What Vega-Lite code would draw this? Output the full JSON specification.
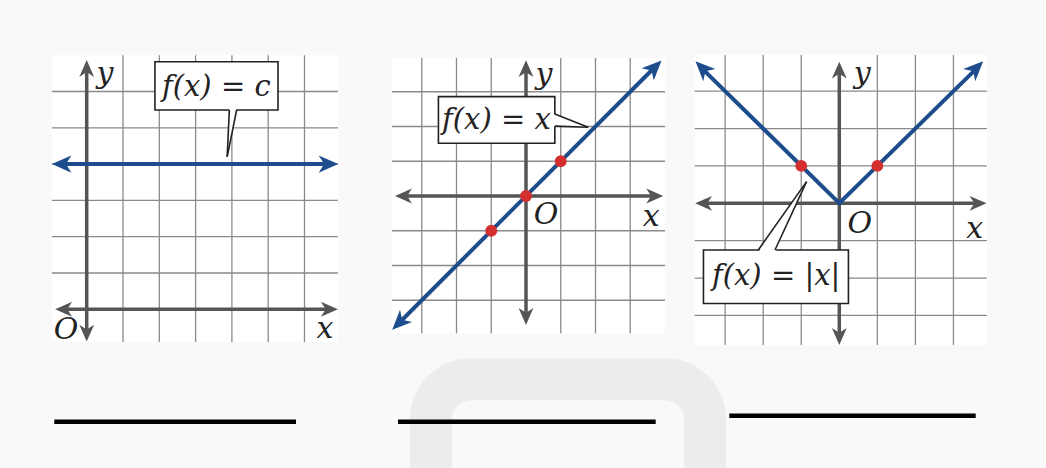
{
  "$schema": "https://vega.github.io/schema/vega-lite/v6.json",
  "background": "#f9f9f9",
  "padding": {"left": 40, "top": 40, "right": 36, "bottom": 0},
  "bounds": "flush",
  "spacing": 10,
  "config": {"view": {"stroke": null}, "text": {"font": "DejaVu Serif"}},
  "hconcat": [
    {
      "width": 320,
      "height": 400,
      "data": {"values": [
        {"part": "bg", "x": -0.96, "x2": 6.92, "y": -0.9, "y2": 7.0},
        {"part": "vgrid", "x": 1, "y": -0.9, "y2": 7.0},
        {"part": "vgrid", "x": 2, "y": -0.9, "y2": 7.0},
        {"part": "vgrid", "x": 3, "y": -0.9, "y2": 7.0},
        {"part": "vgrid", "x": 4, "y": -0.9, "y2": 7.0},
        {"part": "vgrid", "x": 5, "y": -0.9, "y2": 7.0},
        {"part": "vgrid", "x": 6, "y": -0.9, "y2": 7.0},
        {"part": "hgrid", "y": 1, "x": -0.96, "x2": 6.92},
        {"part": "hgrid", "y": 2, "x": -0.96, "x2": 6.92},
        {"part": "hgrid", "y": 3, "x": -0.96, "x2": 6.92},
        {"part": "hgrid", "y": 4, "x": -0.96, "x2": 6.92},
        {"part": "hgrid", "y": 5, "x": -0.96, "x2": 6.92},
        {"part": "hgrid", "y": 6, "x": -0.96, "x2": 6.92},
        {"part": "axis", "x": -0.57, "y": 0, "x2": 6.62, "y2": 0},
        {"part": "axis", "x": 0, "y": -0.59, "x2": 0, "y2": 6.57},
        {"part": "axarrow", "dir": "left", "x": -0.87, "y": 0},
        {"part": "axarrow", "dir": "right", "x": 6.92, "y": 0},
        {"part": "axarrow", "dir": "up", "x": 0, "y": 6.87},
        {"part": "axarrow", "dir": "down", "x": 0, "y": -0.89},
        {"part": "curve", "x": -0.66, "y": 4},
        {"part": "curve", "x": 6.63, "y": 4},
        {"part": "carrow", "dir": "left", "x": -0.96, "y": 4},
        {"part": "carrow", "dir": "right", "x": 6.93, "y": 4},
        {"part": "box", "x": 1.88, "x2": 5.27, "y": 5.49, "y2": 6.82},
        {"part": "ptr", "y": 5.56, "x": 3.93, "x2": 4.13},
        {"part": "ptr", "y": 4.2, "x": 3.87, "x2": 3.87},
        {"part": "side", "x": 3.93, "y": 5.49, "x2": 3.87, "y2": 4.2},
        {"part": "side", "x": 4.13, "y": 5.49, "x2": 3.87, "y2": 4.2},
        {"part": "btext", "x": 3.57, "y": 6.13, "t": "f(x) = c"},
        {"part": "label", "x": 0.5, "y": 6.48, "t": "y"},
        {"part": "label", "x": 6.56, "y": -0.54, "t": "x"},
        {"part": "label", "x": -0.57, "y": -0.57, "t": "O"},
        {"part": "uline", "x": -0.893, "x2": 5.766, "y": -3.096}
      ]},
      "encoding": {
        "x": {"field": "x", "type": "quantitative", "scale": {"domain": [-1.2865, 7.5289], "nice": false, "zero": false}, "axis": null},
        "y": {"field": "y", "type": "quantitative", "scale": {"domain": [-3.6006, 7.4187], "nice": false, "zero": false}, "axis": null}
      },
      "layer": [
        {"transform": [{"filter": "datum.part === 'bg'"}], "mark": {"type": "rect", "color": "#ffffff"}, "encoding": {"x2": {"field": "x2"}, "y2": {"field": "y2"}}},
        {"transform": [{"filter": "datum.part === 'vgrid'"}], "mark": {"type": "rule", "color": "#8a8a8a", "strokeWidth": 1.3}, "encoding": {"y2": {"field": "y2"}}},
        {"transform": [{"filter": "datum.part === 'hgrid'"}], "mark": {"type": "rule", "color": "#8a8a8a", "strokeWidth": 1.3}, "encoding": {"x2": {"field": "x2"}}},
        {"transform": [{"filter": "datum.part === 'axis'"}], "mark": {"type": "rule", "color": "#555555", "strokeWidth": 3.5}, "encoding": {"x2": {"field": "x2"}, "y2": {"field": "y2"}}},
        {"transform": [{"filter": "datum.part === 'curve'"}], "mark": {"type": "line", "color": "#1d4d8c", "strokeWidth": 4}},
        {"transform": [{"filter": "datum.part === 'axarrow'"}], "mark": {"type": "point", "shape": "M0,0L0.7,1.6L0,1.15L-0.7,1.6Z", "filled": true, "size": 450, "color": "#555555", "opacity": 1},
         "encoding": {"angle": {"field": "dir", "type": "nominal", "scale": {"type": "ordinal", "domain": ["up", "right", "down", "left", "ne", "sw", "nw"], "range": [0, 90, 180, 270, 45, 225, 315]}, "legend": null}}},
        {"transform": [{"filter": "datum.part === 'carrow'"}], "mark": {"type": "point", "shape": "M0,0L0.7,1.6L0,1.15L-0.7,1.6Z", "filled": true, "size": 600, "color": "#1d4d8c", "opacity": 1},
         "encoding": {"angle": {"field": "dir", "type": "nominal", "scale": {"type": "ordinal", "domain": ["up", "right", "down", "left", "ne", "sw", "nw"], "range": [0, 90, 180, 270, 45, 225, 315]}, "legend": null}}},
        {"transform": [{"filter": "datum.part === 'box'"}], "mark": {"type": "rect", "fill": "#ffffff", "stroke": "#222222", "strokeWidth": 1.6}, "encoding": {"x2": {"field": "x2"}, "y2": {"field": "y2"}}},
        {"transform": [{"filter": "datum.part === 'ptr'"}], "mark": {"type": "area", "orient": "horizontal", "color": "#ffffff", "opacity": 1}, "encoding": {"x2": {"field": "x2"}}},
        {"transform": [{"filter": "datum.part === 'side'"}], "mark": {"type": "rule", "color": "#222222", "strokeWidth": 1.6}, "encoding": {"x2": {"field": "x2"}, "y2": {"field": "y2"}}},
        {"transform": [{"filter": "datum.part === 'btext'"}], "mark": {"type": "text", "font": "DejaVu Serif", "fontStyle": "italic", "fontSize": 29, "color": "#222222", "align": "center", "baseline": "middle"}, "encoding": {"text": {"field": "t"}}},
        {"transform": [{"filter": "datum.part === 'label'"}], "mark": {"type": "text", "font": "DejaVu Serif", "fontStyle": "italic", "fontSize": 30, "color": "#222222", "align": "center", "baseline": "middle"}, "encoding": {"text": {"field": "t"}}},
        {"transform": [{"filter": "datum.part === 'uline'"}], "mark": {"type": "rule", "color": "#000000", "strokeWidth": 4.5}, "encoding": {"x2": {"field": "x2"}}}
      ]
    },
    {
      "width": 310,
      "height": 400,
      "data": {"values": [
        {"part": "logo", "x": -2.73, "x2": 5.15, "y": -5.27, "y2": -9.3},
        {"part": "bg", "x": -3.86, "x2": 4.0, "y": -3.95, "y2": 3.97},
        {"part": "vgrid", "x": -3, "y": -3.95, "y2": 3.97},
        {"part": "vgrid", "x": -2, "y": -3.95, "y2": 3.97},
        {"part": "vgrid", "x": -1, "y": -3.95, "y2": 3.97},
        {"part": "vgrid", "x": 1, "y": -3.95, "y2": 3.97},
        {"part": "vgrid", "x": 2, "y": -3.95, "y2": 3.97},
        {"part": "vgrid", "x": 3, "y": -3.95, "y2": 3.97},
        {"part": "hgrid", "y": -3, "x": -3.86, "x2": 4.0},
        {"part": "hgrid", "y": -2, "x": -3.86, "x2": 4.0},
        {"part": "hgrid", "y": -1, "x": -3.86, "x2": 4.0},
        {"part": "hgrid", "y": 1, "x": -3.86, "x2": 4.0},
        {"part": "hgrid", "y": 2, "x": -3.86, "x2": 4.0},
        {"part": "hgrid", "y": 3, "x": -3.86, "x2": 4.0},
        {"part": "axis", "x": -3.47, "y": 0, "x2": 3.65, "y2": 0},
        {"part": "axis", "x": 0, "y": -3.41, "x2": 0, "y2": 3.61},
        {"part": "axarrow", "dir": "left", "x": -3.77, "y": 0},
        {"part": "axarrow", "dir": "right", "x": 3.95, "y": 0},
        {"part": "axarrow", "dir": "up", "x": 0, "y": 3.91},
        {"part": "axarrow", "dir": "down", "x": 0, "y": -3.71},
        {"part": "curve", "x": -3.64, "y": -3.64},
        {"part": "curve", "x": 3.69, "y": 3.69},
        {"part": "carrow", "dir": "sw", "x": -3.85, "y": -3.85},
        {"part": "carrow", "dir": "ne", "x": 3.9, "y": 3.9},
        {"part": "dot", "x": -1, "y": -1},
        {"part": "dot", "x": 0, "y": 0},
        {"part": "dot", "x": 1, "y": 1},
        {"part": "box", "x": -2.52, "x2": 0.83, "y": 1.52, "y2": 2.86},
        {"part": "ptr", "x": 0.78, "y": 2.01, "y2": 2.36},
        {"part": "ptr", "x": 1.79, "y": 1.98, "y2": 1.98},
        {"part": "side", "x": 0.83, "y": 2.36, "x2": 1.79, "y2": 1.98},
        {"part": "side", "x": 0.83, "y": 2.01, "x2": 1.79, "y2": 1.98},
        {"part": "btext", "x": -0.85, "y": 2.2, "t": "f(x) = x"},
        {"part": "label", "x": 0.52, "y": 3.48, "t": "y"},
        {"part": "label", "x": 0.58, "y": -0.55, "t": "O"},
        {"part": "label", "x": 3.6, "y": -0.6, "t": "x"},
        {"part": "uline", "x": -3.683, "x2": 3.732, "y": -6.495}
      ]},
      "encoding": {
        "x": {"field": "x", "type": "quantitative", "scale": {"domain": [-4.4892, 4.4317], "nice": false, "zero": false}, "axis": null},
        "y": {"field": "y", "type": "quantitative", "scale": {"domain": [-7.0216, 4.4892], "nice": false, "zero": false}, "axis": null}
      },
      "layer": [
        {"transform": [{"filter": "datum.part === 'logo'"}], "mark": {"type": "rect", "fill": null, "stroke": "#ececec", "strokeWidth": 42, "cornerRadius": 40}, "encoding": {"x2": {"field": "x2"}, "y2": {"field": "y2"}}},
        {"transform": [{"filter": "datum.part === 'bg'"}], "mark": {"type": "rect", "color": "#ffffff"}, "encoding": {"x2": {"field": "x2"}, "y2": {"field": "y2"}}},
        {"transform": [{"filter": "datum.part === 'vgrid'"}], "mark": {"type": "rule", "color": "#8a8a8a", "strokeWidth": 1.3}, "encoding": {"y2": {"field": "y2"}}},
        {"transform": [{"filter": "datum.part === 'hgrid'"}], "mark": {"type": "rule", "color": "#8a8a8a", "strokeWidth": 1.3}, "encoding": {"x2": {"field": "x2"}}},
        {"transform": [{"filter": "datum.part === 'axis'"}], "mark": {"type": "rule", "color": "#555555", "strokeWidth": 3.5}, "encoding": {"x2": {"field": "x2"}, "y2": {"field": "y2"}}},
        {"transform": [{"filter": "datum.part === 'curve'"}], "mark": {"type": "line", "color": "#1d4d8c", "strokeWidth": 4}},
        {"transform": [{"filter": "datum.part === 'axarrow'"}], "mark": {"type": "point", "shape": "M0,0L0.7,1.6L0,1.15L-0.7,1.6Z", "filled": true, "size": 450, "color": "#555555", "opacity": 1},
         "encoding": {"angle": {"field": "dir", "type": "nominal", "scale": {"type": "ordinal", "domain": ["up", "right", "down", "left", "ne", "sw", "nw"], "range": [0, 90, 180, 270, 45, 225, 315]}, "legend": null}}},
        {"transform": [{"filter": "datum.part === 'carrow'"}], "mark": {"type": "point", "shape": "M0,0L0.7,1.6L0,1.15L-0.7,1.6Z", "filled": true, "size": 600, "color": "#1d4d8c", "opacity": 1},
         "encoding": {"angle": {"field": "dir", "type": "nominal", "scale": {"type": "ordinal", "domain": ["up", "right", "down", "left", "ne", "sw", "nw"], "range": [0, 90, 180, 270, 45, 225, 315]}, "legend": null}}},
        {"transform": [{"filter": "datum.part === 'dot'"}], "mark": {"type": "circle", "size": 140, "color": "#d42f2f", "opacity": 1}},
        {"transform": [{"filter": "datum.part === 'box'"}], "mark": {"type": "rect", "fill": "#ffffff", "stroke": "#222222", "strokeWidth": 1.6}, "encoding": {"x2": {"field": "x2"}, "y2": {"field": "y2"}}},
        {"transform": [{"filter": "datum.part === 'ptr'"}], "mark": {"type": "area", "orient": "vertical", "color": "#ffffff", "opacity": 1}, "encoding": {"y2": {"field": "y2"}}},
        {"transform": [{"filter": "datum.part === 'side'"}], "mark": {"type": "rule", "color": "#222222", "strokeWidth": 1.6}, "encoding": {"x2": {"field": "x2"}, "y2": {"field": "y2"}}},
        {"transform": [{"filter": "datum.part === 'btext'"}], "mark": {"type": "text", "font": "DejaVu Serif", "fontStyle": "italic", "fontSize": 29, "color": "#222222", "align": "center", "baseline": "middle"}, "encoding": {"text": {"field": "t"}}},
        {"transform": [{"filter": "datum.part === 'label'"}], "mark": {"type": "text", "font": "DejaVu Serif", "fontStyle": "italic", "fontSize": 30, "color": "#222222", "align": "center", "baseline": "middle"}, "encoding": {"text": {"field": "t"}}},
        {"transform": [{"filter": "datum.part === 'uline'"}], "mark": {"type": "rule", "color": "#000000", "strokeWidth": 4.5}, "encoding": {"x2": {"field": "x2"}}}
      ]
    },
    {
      "width": 320,
      "height": 400,
      "data": {"values": [
        {"part": "bg", "x": -3.8, "x2": 3.88, "y": -3.79, "y2": 3.97},
        {"part": "vgrid", "x": -3, "y": -3.79, "y2": 3.97},
        {"part": "vgrid", "x": -2, "y": -3.79, "y2": 3.97},
        {"part": "vgrid", "x": -1, "y": -3.79, "y2": 3.97},
        {"part": "vgrid", "x": 1, "y": -3.79, "y2": 3.97},
        {"part": "vgrid", "x": 2, "y": -3.79, "y2": 3.97},
        {"part": "vgrid", "x": 3, "y": -3.79, "y2": 3.97},
        {"part": "hgrid", "y": -3, "x": -3.8, "x2": 3.88},
        {"part": "hgrid", "y": -2, "x": -3.8, "x2": 3.88},
        {"part": "hgrid", "y": -1, "x": -3.8, "x2": 3.88},
        {"part": "hgrid", "y": 1, "x": -3.8, "x2": 3.88},
        {"part": "hgrid", "y": 2, "x": -3.8, "x2": 3.88},
        {"part": "hgrid", "y": 3, "x": -3.8, "x2": 3.88},
        {"part": "axis", "x": -3.5, "y": 0, "x2": 3.58, "y2": 0},
        {"part": "axis", "x": 0, "y": -3.49, "x2": 0, "y2": 3.49},
        {"part": "axarrow", "dir": "left", "x": -3.79, "y": 0},
        {"part": "axarrow", "dir": "right", "x": 3.87, "y": 0},
        {"part": "axarrow", "dir": "up", "x": 0, "y": 3.79},
        {"part": "axarrow", "dir": "down", "x": 0, "y": -3.79},
        {"part": "curve", "x": -3.57, "y": 3.57},
        {"part": "curve", "x": 0, "y": 0},
        {"part": "curve", "x": 3.57, "y": 3.57},
        {"part": "carrow", "dir": "nw", "x": -3.78, "y": 3.8},
        {"part": "carrow", "dir": "ne", "x": 3.78, "y": 3.8},
        {"part": "dot", "x": -1, "y": 1},
        {"part": "dot", "x": 1, "y": 1},
        {"part": "box", "x": -3.57, "x2": 0.24, "y": -2.68, "y2": -1.25},
        {"part": "ptr", "y": -1.31, "x": -2.13, "x2": -1.69},
        {"part": "ptr", "y": 0.58, "x": -0.86, "x2": -0.86},
        {"part": "side", "x": -2.13, "y": -1.25, "x2": -0.86, "y2": 0.58},
        {"part": "side", "x": -1.69, "y": -1.25, "x2": -0.86, "y2": 0.58},
        {"part": "btext", "x": -1.66, "y": -1.95, "t": "f(x) = |x|"},
        {"part": "label", "x": 0.6, "y": 3.46, "t": "y"},
        {"part": "label", "x": 0.54, "y": -0.55, "t": "O"},
        {"part": "label", "x": 3.56, "y": -0.69, "t": "x"},
        {"part": "uline", "x": -2.891, "x2": 3.585, "y": -5.682}
      ]},
      "encoding": {
        "x": {"field": "x", "type": "quantitative", "scale": {"domain": [-3.9238, 4.4862], "nice": false, "zero": false}, "axis": null},
        "y": {"field": "y", "type": "quantitative", "scale": {"domain": [-6.3323, 4.3687], "nice": false, "zero": false}, "axis": null}
      },
      "layer": [
        {"transform": [{"filter": "datum.part === 'bg'"}], "mark": {"type": "rect", "color": "#ffffff"}, "encoding": {"x2": {"field": "x2"}, "y2": {"field": "y2"}}},
        {"transform": [{"filter": "datum.part === 'vgrid'"}], "mark": {"type": "rule", "color": "#8a8a8a", "strokeWidth": 1.3}, "encoding": {"y2": {"field": "y2"}}},
        {"transform": [{"filter": "datum.part === 'hgrid'"}], "mark": {"type": "rule", "color": "#8a8a8a", "strokeWidth": 1.3}, "encoding": {"x2": {"field": "x2"}}},
        {"transform": [{"filter": "datum.part === 'axis'"}], "mark": {"type": "rule", "color": "#555555", "strokeWidth": 3.5}, "encoding": {"x2": {"field": "x2"}, "y2": {"field": "y2"}}},
        {"transform": [{"filter": "datum.part === 'curve'"}], "mark": {"type": "line", "color": "#1d4d8c", "strokeWidth": 4}},
        {"transform": [{"filter": "datum.part === 'axarrow'"}], "mark": {"type": "point", "shape": "M0,0L0.7,1.6L0,1.15L-0.7,1.6Z", "filled": true, "size": 450, "color": "#555555", "opacity": 1},
         "encoding": {"angle": {"field": "dir", "type": "nominal", "scale": {"type": "ordinal", "domain": ["up", "right", "down", "left", "ne", "sw", "nw"], "range": [0, 90, 180, 270, 45, 225, 315]}, "legend": null}}},
        {"transform": [{"filter": "datum.part === 'carrow'"}], "mark": {"type": "point", "shape": "M0,0L0.7,1.6L0,1.15L-0.7,1.6Z", "filled": true, "size": 600, "color": "#1d4d8c", "opacity": 1},
         "encoding": {"angle": {"field": "dir", "type": "nominal", "scale": {"type": "ordinal", "domain": ["up", "right", "down", "left", "ne", "sw", "nw"], "range": [0, 90, 180, 270, 45, 225, 315]}, "legend": null}}},
        {"transform": [{"filter": "datum.part === 'dot'"}], "mark": {"type": "circle", "size": 140, "color": "#d42f2f", "opacity": 1}},
        {"transform": [{"filter": "datum.part === 'box'"}], "mark": {"type": "rect", "fill": "#ffffff", "stroke": "#222222", "strokeWidth": 1.6}, "encoding": {"x2": {"field": "x2"}, "y2": {"field": "y2"}}},
        {"transform": [{"filter": "datum.part === 'ptr'"}], "mark": {"type": "area", "orient": "horizontal", "color": "#ffffff", "opacity": 1}, "encoding": {"x2": {"field": "x2"}}},
        {"transform": [{"filter": "datum.part === 'side'"}], "mark": {"type": "rule", "color": "#222222", "strokeWidth": 1.6}, "encoding": {"x2": {"field": "x2"}, "y2": {"field": "y2"}}},
        {"transform": [{"filter": "datum.part === 'btext'"}], "mark": {"type": "text", "font": "DejaVu Serif", "fontStyle": "italic", "fontSize": 29, "color": "#222222", "align": "center", "baseline": "middle"}, "encoding": {"text": {"field": "t"}}},
        {"transform": [{"filter": "datum.part === 'label'"}], "mark": {"type": "text", "font": "DejaVu Serif", "fontStyle": "italic", "fontSize": 30, "color": "#222222", "align": "center", "baseline": "middle"}, "encoding": {"text": {"field": "t"}}},
        {"transform": [{"filter": "datum.part === 'uline'"}], "mark": {"type": "rule", "color": "#000000", "strokeWidth": 4.5}, "encoding": {"x2": {"field": "x2"}}}
      ]
    }
  ]
}
